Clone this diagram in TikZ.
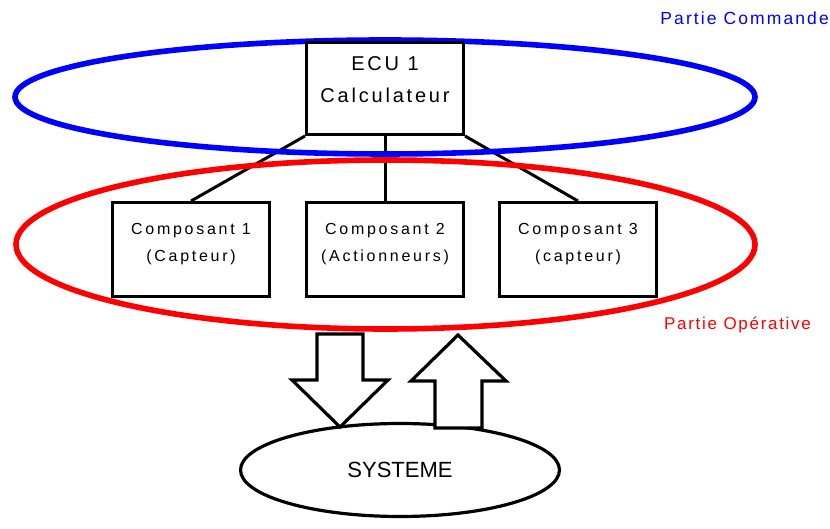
\documentclass[tikz,border=0pt]{standalone}
\usepackage{fontspec}
\setmainfont{Liberation Sans}
\newfontfamily\ecufont[LetterSpace=14]{Liberation Sans}
\newfontfamily\compfont[LetterSpace=17]{Liberation Sans}
\newfontfamily\labfont[LetterSpace=12]{Liberation Sans}
\newfontfamily\labfontb[LetterSpace=10]{Liberation Sans}
\usetikzlibrary{shapes.geometric}
\begin{document}
\begin{tikzpicture}[x=1pt,y=-1pt,
  box/.style={draw=black,fill=white,line width=3.4pt,minimum width=157pt,inner sep=0pt,align=center},
  ecutext/.style={font=\fontsize{20}{32}\selectfont\ecufont},
  comptext/.style={font=\fontsize{16}{27}\selectfont\compfont},
  link/.style={draw=black,line width=3pt},
  zone/.style={ellipse,line width=5.6pt,inner sep=0pt},
  blockarrow/.style={draw=black,fill=white,line width=3.2pt,line join=miter}]
\useasboundingbox (0,0) rectangle (830,529);
% connectors
\coordinate (ecuL) at (305,136);
\coordinate (ecuR) at (465,136);
\coordinate (ecuM) at (385,136);
\coordinate (c1top) at (191,201);
\coordinate (c2top) at (385,201);
\coordinate (c3top) at (578,201);
\draw[link] (ecuL) -- (c1top);
\draw[link] (ecuM) -- (c2top);
\draw[link] (ecuR) -- (c3top);
% zones
\node[zone,draw=blue,minimum width=740pt,minimum height=114pt] (cmd) at (385,97) {};
\node[zone,draw=red,minimum width=739pt,minimum height=169pt] (op) at (385.5,244.5) {};
% boxes
\node[box,ecutext,minimum height=92pt,text depth=17pt] (ecu) at (385,88.5) {ECU 1\\Calculateur};
\node[box,comptext,minimum height=94pt,text depth=15pt] (c1) at (191,249.5) {Composant 1\\(Capteur)};
\node[box,comptext,minimum height=94pt,text depth=15pt] (c2) at (385,249.5) {Composant 2\\(Actionneurs)};
\node[box,comptext,minimum height=94pt,text depth=15pt] (c3) at (578,249.5) {Composant 3\\(capteur)};
% system
\node[ellipse,draw=black,fill=white,line width=3.2pt,minimum width=319pt,minimum height=93pt,inner sep=0pt,font=\fontsize{22}{25}\selectfont] (sys) at (400,470) {SYSTEME};
% block arrows
\draw[blockarrow] (317,334) -- (363,334) -- (363,380) -- (388,380) -- (340,427) -- (292,380) -- (317,380) -- cycle;
\draw[blockarrow] (435,428) -- (435,381) -- (411,381) -- (458,335) -- (506,381) -- (482,381) -- (482,428) -- cycle;
% labels
\node[anchor=east,text=blue,inner sep=0pt,font=\fontsize{17.5}{20}\selectfont\labfont] (lcmd) at (829,18) {Partie Commande};
\node[anchor=west,text=red,inner sep=0pt,font=\fontsize{17}{20}\selectfont\labfontb] (lop) at (664,325) {Partie Opérative};
\end{tikzpicture}
\end{document}
